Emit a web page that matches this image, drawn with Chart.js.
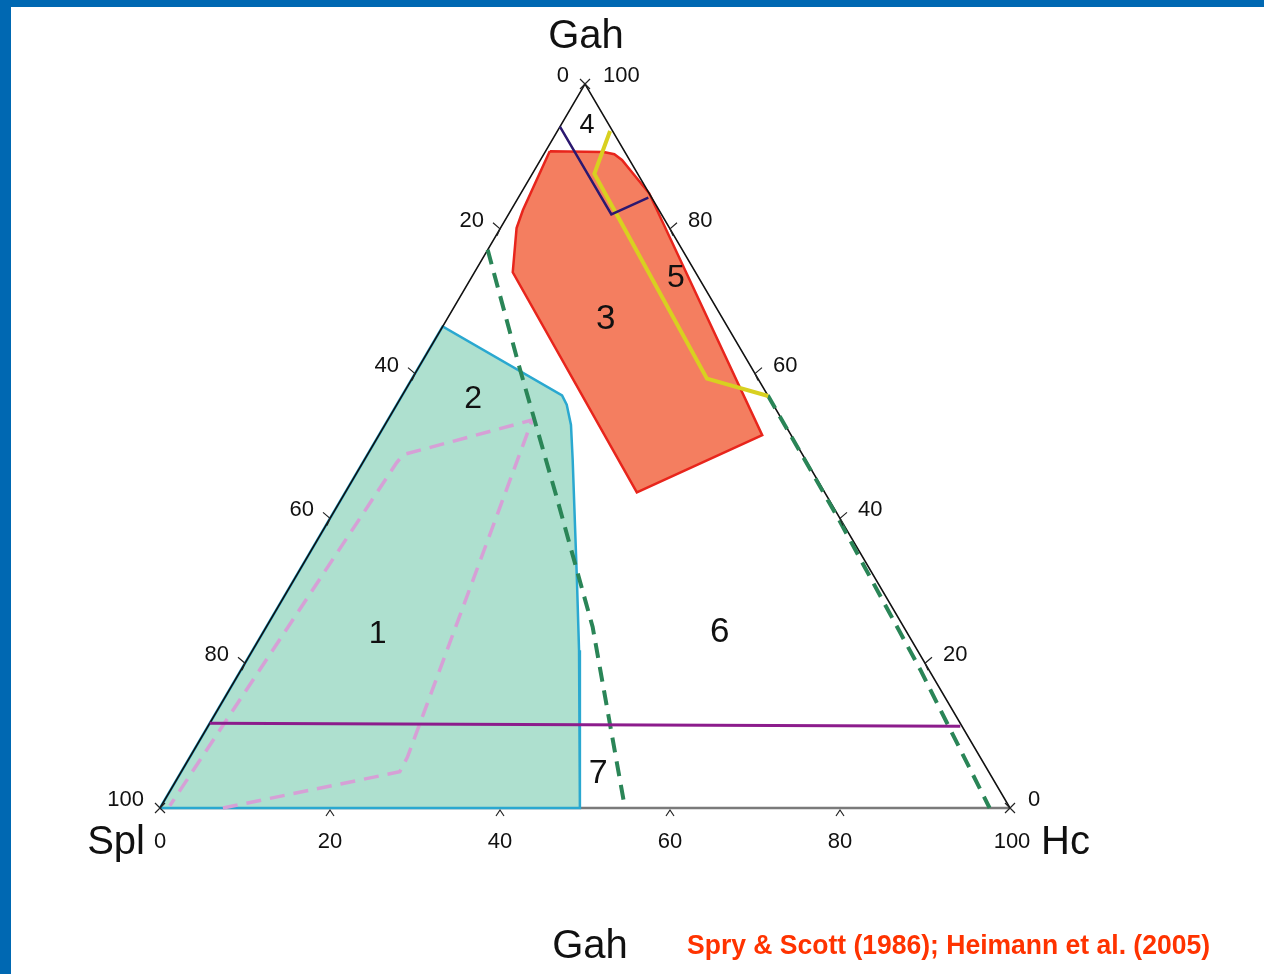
<!DOCTYPE html>
<html lang="en">
<head>
<meta charset="UTF-8">
<title>Gah - Spl - Hc</title>
<script src="https://cdn.jsdelivr.net/npm/chart.js"></script>
<style>
  body { margin: 0; background: #0068b2; width: 1264px; height: 974px; overflow: hidden; }
  .folha { position: absolute; left: 11px; top: 7px; width: 1253px; height: 967px; background: #fff; }
  canvas { display: block; }
</style>
</head>
<body>
<div class="folha"><canvas id="ternario" width="1253" height="967"></canvas></div>

<script>
// compositions in mol % : Hc and Gah, Spl is the rest (100 - Hc - Gah)
const tickValues = [0, 20, 40, 60, 80, 100];

// fields 1 + 2 (green)
const field12Hc  = [0, 0, 18.8, 20.0, 21.9, 24.5, 28.9, 33.3, 38.4, 43.3, 49.4, 0];
const field12Gah = [0, 66.5, 57.0, 55.7, 52.9, 48.1, 39.8, 31.5, 21.8, 12.2, 0, 0];

// field 3 (red)
const field3Hc  = [0.5, 6.9, 8.3, 9.6, 15.1, 45.1, 34.3, 4.5, 1.9, 1.4, 0.5];
const field3Gah = [90.7, 90.6, 90.3, 89.5, 84.9, 51.5, 43.6, 74.0, 80.1, 82.6, 90.7];

// dashed lavender outline inside field 1
const innerHc  = [7.4, 25.7, 25.6, 17.0, 4.2, 4.0, 1.0];
const innerGah = [0, 5.0, 7.0, 53.6, 48.8, 47.7, 0.3];

// dashed green boundaries
const solvusLeftHc   = [0, 11.9, 25.0, 38.4, 47.2, 54.7];
const solvusLeftGah  = [77.1, 60.8, 43.2, 25.0, 11.5, 0];
const solvusRightHc  = [43.0, 59.7, 79.9, 97.6];
const solvusRightGah = [57.0, 40.1, 19.1, 0];

// field 5 limit (yellow), field 4 limit (navy), horizontal limit (purple)
const line5Hc  = [6.2, 7.3, 34.7, 43.1];
const line5Gah = [93.5, 87.6, 59.3, 56.9];
const line4Hc  = [0, 12.1, 15.3];
const line4Gah = [94.1, 82.0, 84.3];
const limitHc  = [0, 88.5];
const limitGah = [11.7, 11.3];

// field numbers
const fieldNames = ['1', '2', '3', '4', '5', '6', '7'];
const fieldHc    = [13.6, 8.6, 18.7, 3.1, 24.1, 53.7, 49.2];
const fieldGah   = [24.0, 56.5, 67.5, 94.3, 73.2, 24.3, 4.7];

function pontos(hc, gah) {
  return hc.map((h, i) => ({ x: h + gah[i] / 2, y: gah[i] }));
}

function linha(rotulo, hc, gah, cor, largura, extra) {
  return Object.assign({
    label: rotulo,
    data: pontos(hc, gah),
    showLine: true,
    borderColor: cor,
    borderWidth: largura,
    pointRadius: 0,
    fill: false,
    tension: 0,
    clip: false
  }, extra || {});
}

const tamanhoNum = [32, 32, 35, 27, 32, 35, 34];

const rotulos = {
  id: 'rotulos',
  afterDatasetsDraw(chart) {
    const ctx = chart.ctx;
    const sx = chart.scales.x, sy = chart.scales.y;
    const px = (hc, gah) => [sx.getPixelForValue(hc + gah / 2), sy.getPixelForValue(gah)];

    ctx.save();
    ctx.strokeStyle = '#222';
    ctx.lineWidth = 1.2;
    ctx.fillStyle = '#111';
    ctx.font = '22px "Liberation Sans", Arial, sans-serif';

    tickValues.forEach(v => {
      // bottom edge: Hc
      let [x, y] = px(v, 0);
      ctx.beginPath();
      if (v === 0 || v === 100) {
        ctx.moveTo(x - 5, y - 5); ctx.lineTo(x + 5, y + 5);
        ctx.moveTo(x + 5, y - 5); ctx.lineTo(x - 5, y + 5);
      } else {
        ctx.moveTo(x - 4, y + 8); ctx.lineTo(x, y + 2); ctx.lineTo(x + 4, y + 8);
      }
      ctx.stroke();
      ctx.textAlign = 'center'; ctx.textBaseline = 'middle';
      ctx.fillText(String(v), x + (v === 100 ? 2 : 0), y + 34);

      // left edge: Spl (0 at top)
      [x, y] = px(0, 100 - v);
      if (v > 0 && v < 100) {
        ctx.beginPath();
        ctx.moveTo(x - 7, y - 6); ctx.lineTo(x, y); ctx.lineTo(x - 3, y + 7);
        ctx.stroke();
      }
      ctx.textAlign = 'right';
      ctx.fillText(String(v), x - 16, y - 8);

      // right edge: Gah (0 at Hc corner)
      [x, y] = px(100 - v, v);
      if (v > 0 && v < 100) {
        ctx.beginPath();
        ctx.moveTo(x + 7, y - 6); ctx.lineTo(x, y); ctx.lineTo(x + 3, y + 7);
        ctx.stroke();
      }
      ctx.textAlign = 'left';
      ctx.fillText(String(v), x + 18, y - 8);
    });

    // top corner cross
    const [tx, ty] = px(0, 100);
    ctx.beginPath();
    ctx.moveTo(tx - 5, ty - 5); ctx.lineTo(tx + 5, ty + 5);
    ctx.moveTo(tx + 5, ty - 5); ctx.lineTo(tx - 5, ty + 5);
    ctx.stroke();

    // field numbers
    ctx.textAlign = 'center'; ctx.textBaseline = 'middle';
    fieldNames.forEach((n, i) => {
      const [x, y] = px(fieldHc[i], fieldGah[i]);
      ctx.font = tamanhoNum[i] + 'px "Liberation Sans", Arial, sans-serif';
      ctx.fillText(n, x, y);
    });

    // end members
    ctx.font = '40px "Liberation Sans", Arial, sans-serif';
    ctx.fillText('Gah', tx + 1, ty - 47);
    const [lx, ly] = px(0, 0);
    ctx.textAlign = 'right';
    ctx.fillText('Spl', lx - 15, ly + 35);
    const [rx, ry] = px(100, 0);
    ctx.textAlign = 'left';
    ctx.fillText('Hc', rx + 31, ry + 35);
    ctx.textAlign = 'center';
    ctx.fillText('Gah', 579, 940);

    // reference
    ctx.font = 'bold 28px "Liberation Sans", Arial, sans-serif';
    ctx.fillStyle = '#ff3300';
    ctx.textAlign = 'left';
    ctx.fillText('Spry & Scott (1986); Heimann et al. (2005)', 676, 939, 523);
    ctx.restore();
  }
};

new Chart(document.getElementById('ternario'), {
  type: 'scatter',
  data: {
    datasets: [
      linha('limite', limitHc, limitGah, '#8c1c8c', 3, { order: 1 }),
      linha('campo 4', line4Hc, line4Gah, '#2b1870', 2.5, { order: 2 }),
      linha('campo 5', line5Hc, line5Gah, '#d8d020', 4, { order: 3 }),
      linha('solvus dir.', solvusRightHc, solvusRightGah, '#2a8557', 4, { borderDash: [15, 9], order: 4 }),
      linha('solvus esq.', solvusLeftHc, solvusLeftGah, '#2a8557', 4, { borderDash: [15, 9], order: 5 }),
      linha('contorno', innerHc, innerGah, '#d6a0d6', 3.5, { borderDash: [15, 9], order: 6 }),
      linha('lados', [0, 0, 100], [0, 100, 0], '#111', 1.5, { order: 7 }),
      linha('campo 3', field3Hc, field3Gah, '#e8251c', 2.5, { fill: 'shape', backgroundColor: '#f47e60', order: 8 }),
      linha('campos 1-2', field12Hc, field12Gah, '#2aa8d0', 2.5, { fill: 'shape', backgroundColor: '#aee0cf', order: 9 }),
      linha('base', [0, 100], [0, 0], '#7a7a7a', 2.5, { order: 10 })
    ]
  },
  options: {
    responsive: false,
    animation: false,
    layout: { padding: { left: 149, right: 254, top: 77, bottom: 166 } },
    scales: {
      x: { type: 'linear', min: 0, max: 100, display: false },
      y: { type: 'linear', min: 0, max: 100, display: false }
    },
    plugins: { legend: { display: false }, tooltip: { enabled: false } }
  },
  plugins: [rotulos]
});
</script>
</body>
</html>
